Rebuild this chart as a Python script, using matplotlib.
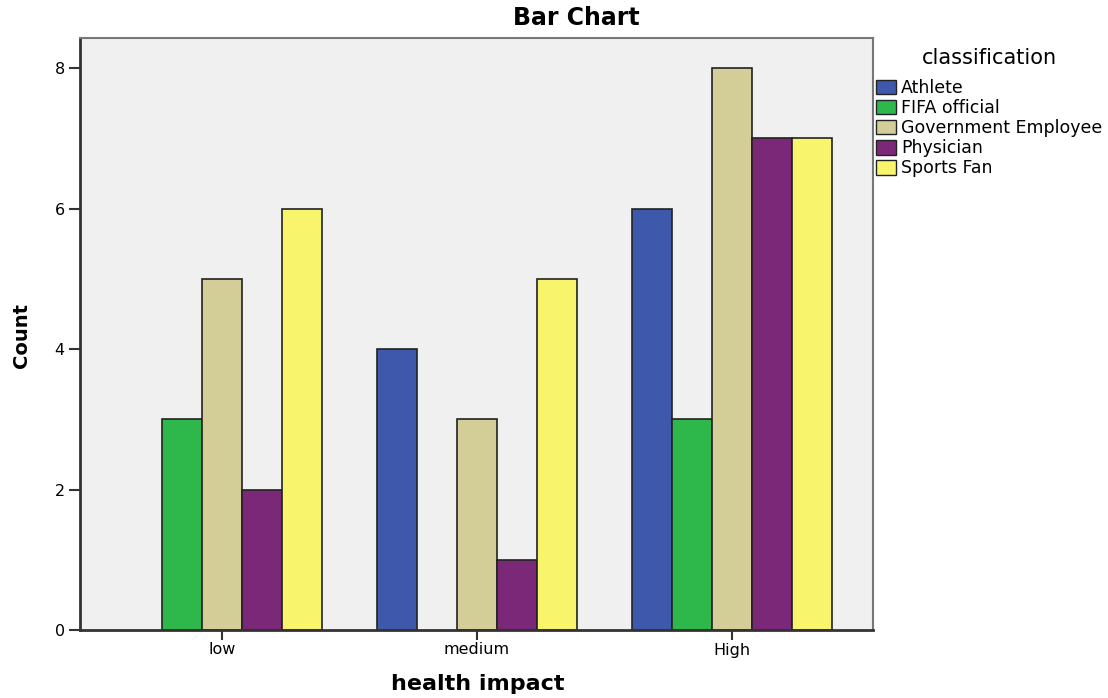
import numpy as np
import matplotlib
matplotlib.use("Agg")
import matplotlib.pyplot as plt
from matplotlib.patches import Patch

plt.rcParams['font.family'] = ['DejaVu Sans']

categories = ['low', 'medium', 'High']
series = ['Athlete', 'FIFA official', 'Government Employee', 'Physician', 'Sports Fan']
athlete = [0, 4, 6]
fifa = [3, 0, 3]
government = [5, 3, 8]
physician = [2, 1, 7]
sports_fan = [6, 5, 7]
colores = ['#3E58AC', '#2EB84B', '#D3CE97', '#7C2879', '#F8F46C']

valores = [athlete, fifa, government, physician, sports_fan]

fig = plt.figure(figsize=(11.08, 6.98), dpi=100)
ax = fig.add_axes([80/1108, 68/698, 793/1108, 592/698])
ax.set_facecolor('#F0F0F0')

x = np.arange(len(categories))
ancho = 0.157
for i, (nombre, vals) in enumerate(zip(series, valores)):
    pos = x + (i - 2) * ancho
    for p, v in zip(pos, vals):
        if v > 0:
            ax.bar(p, v, width=ancho, color=colores[i], edgecolor='#222222', linewidth=1.2)

ax.set_xlim(-0.557, 2.553)
ax.set_ylim(0, 8.43)
ax.set_xticks(x)
ax.set_xticklabels(categories, fontsize=11.5)
ax.set_yticks([0, 2, 4, 6, 8])
ax.tick_params(axis='y', labelsize=11.5, length=8, width=1.5, color='#333333', pad=3)
ax.tick_params(axis='x', length=7, width=1.5, color='#333333', pad=2)
for s in ['left', 'bottom']:
    ax.spines[s].set_linewidth(2)
    ax.spines[s].set_color('#333333')
for s in ['top', 'right']:
    ax.spines[s].set_linewidth(1.5)
    ax.spines[s].set_color('#777777')

fig.text(576/1108, 1 - 18/698, 'Bar Chart', ha='center', va='center', fontsize=17, fontweight='bold')
fig.text(478/1108, 1 - 684/698, 'health impact', ha='center', va='center', fontsize=16, fontweight='bold')
fig.text(22/1108, 1 - 335/698, 'Count', ha='center', va='center', fontsize=14, fontweight='bold', rotation=90)

handles = [Patch(facecolor=c, edgecolor='#222222', linewidth=1) for c in colores]
leg = fig.legend(handles, series, loc='upper left', bbox_to_anchor=(876/1108, 1 - 48/698),
                 title='classification', fontsize=12.5, title_fontsize=15, frameon=False,
                 handlelength=1.15, handleheight=0.9, handletextpad=0.3, labelspacing=0.12,
                 borderaxespad=0, borderpad=0)
leg._legend_box.align = 'center'
leg._legend_box.sep = 8

plt.savefig('out.png', dpi=100)
